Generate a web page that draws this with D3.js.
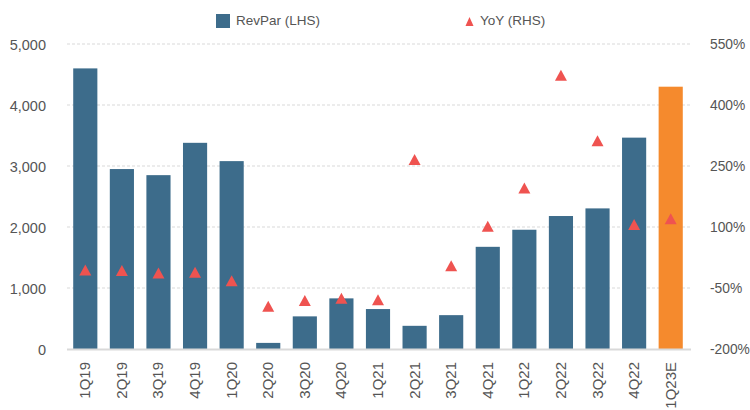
<html>
<head>
<meta charset="utf-8">
<style>
body { margin: 0; background: #fff; }
text { font-family: "Liberation Sans", Arial, sans-serif; fill: #555; }
</style>
</head>
<body>
<svg id="chart" width="750" height="410"></svg>

<script src="https://cdn.jsdelivr.net/npm/d3@7"></script>
<script>
// data
let quarters = ['1Q19','2Q19','3Q19','4Q19','1Q20','2Q20','3Q20','4Q20','1Q21','2Q21','3Q21','4Q21','1Q22','2Q22','3Q22','4Q22','1Q23E'];
let revpar = [4600, 2950, 2850, 3380, 3080, 100, 535, 830, 655, 380, 555, 1675, 1955, 2180, 2305, 3465, 4300];
let yoy = [-6, -7, -13, -11, -32, -95, -81, -75, -79, 266, 5, 102, 196, 473, 312, 106, 120];
let leftTicks = [0, 1000, 2000, 3000, 4000, 5000];
let rightTicks = [-200, -50, 100, 250, 400, 550];

let blue = '#3d6c8b', orange = '#f58a2d', red = '#ef5350';

let svg = d3.select('#chart');

let x = d3.scaleBand()
	.domain(quarters)
	.range([67, 689])
	.paddingInner(0.34)
	.paddingOuter(0.17);

let yL = d3.scaleLinear().domain([0, 5000]).range([349, 44]);
let yR = d3.scaleLinear().domain([-200, 550]).range([349, 44]);

// gridlines
svg.append('g')
	.selectAll('line')
	.data(leftTicks.filter(d => d > 0))
	.join('line')
	.attr('x1', 67).attr('x2', 691)
	.attr('y1', d => yL(d)).attr('y2', d => yL(d))
	.attr('stroke', '#d9d9d9')
	.attr('stroke-dasharray', '3,2');

// left axis
let leftAxis = svg.append('g')
	.attr('transform', 'translate(46,0)')
	.call(d3.axisLeft(yL).tickValues(leftTicks).tickSize(0).tickPadding(0).tickFormat(d3.format(',')));
leftAxis.select('.domain').remove();
leftAxis.selectAll('text').style('font-size', '14.5px').attr('dy', '0.35em');

// right axis
let rightAxis = svg.append('g')
	.attr('transform', 'translate(710,0)')
	.call(d3.axisRight(yR).tickValues(rightTicks).tickSize(0).tickPadding(0).tickFormat(d => d + '%'));
rightAxis.select('.domain').remove();
rightAxis.selectAll('text').style('font-size', '13.8px').attr('dy', '0.35em');

// bars
svg.append('g')
	.selectAll('rect')
	.data(quarters)
	.join('rect')
	.attr('x', d => x(d))
	.attr('width', x.bandwidth())
	.attr('y', (d, i) => yL(revpar[i]))
	.attr('height', (d, i) => yL(0) - yL(revpar[i]))
	.attr('fill', (d, i) => i == quarters.length - 1 ? orange : blue);

// baseline
svg.append('line')
	.attr('x1', 67).attr('x2', 691)
	.attr('y1', yL(0) + 0.5).attr('y2', yL(0) + 0.5)
	.attr('stroke', '#d9d9d9')
	.attr('stroke-width', 2);

// triangles
function tri(w, h) {
	return 'M0,' + (-h / 2) + 'L' + (w / 2) + ',' + (h / 2) + 'L' + (-w / 2) + ',' + (h / 2) + 'Z';
}
svg.append('g')
	.selectAll('path')
	.data(quarters)
	.join('path')
	.attr('d', tri(12, 11))
	.attr('transform', (d, i) => 'translate(' + (x(d) + x.bandwidth() / 2) + ',' + yR(yoy[i]) + ')')
	.attr('fill', red);

// x labels
svg.append('g')
	.selectAll('text')
	.data(quarters)
	.join('text')
	.attr('transform', d => 'translate(' + (x(d) + x.bandwidth() / 2 + 5) + ',362) rotate(-90)')
	.attr('text-anchor', 'end')
	.style('font-size', '15px')
	.text(d => d);

// legend
let legend = svg.append('g');
legend.append('rect')
	.attr('x', 216).attr('y', 14).attr('width', 14).attr('height', 14)
	.attr('fill', blue);
legend.append('text')
	.attr('x', 236).attr('y', 25)
	.style('font-size', '13.5px')
	.text('RevPar (LHS)');
legend.append('path')
	.attr('d', tri(8, 9))
	.attr('transform', 'translate(469.5,21.5)')
	.attr('fill', red);
legend.append('text')
	.attr('x', 480).attr('y', 25)
	.style('font-size', '13.5px')
	.text('YoY (RHS)');
</script>
</body>
</html>
